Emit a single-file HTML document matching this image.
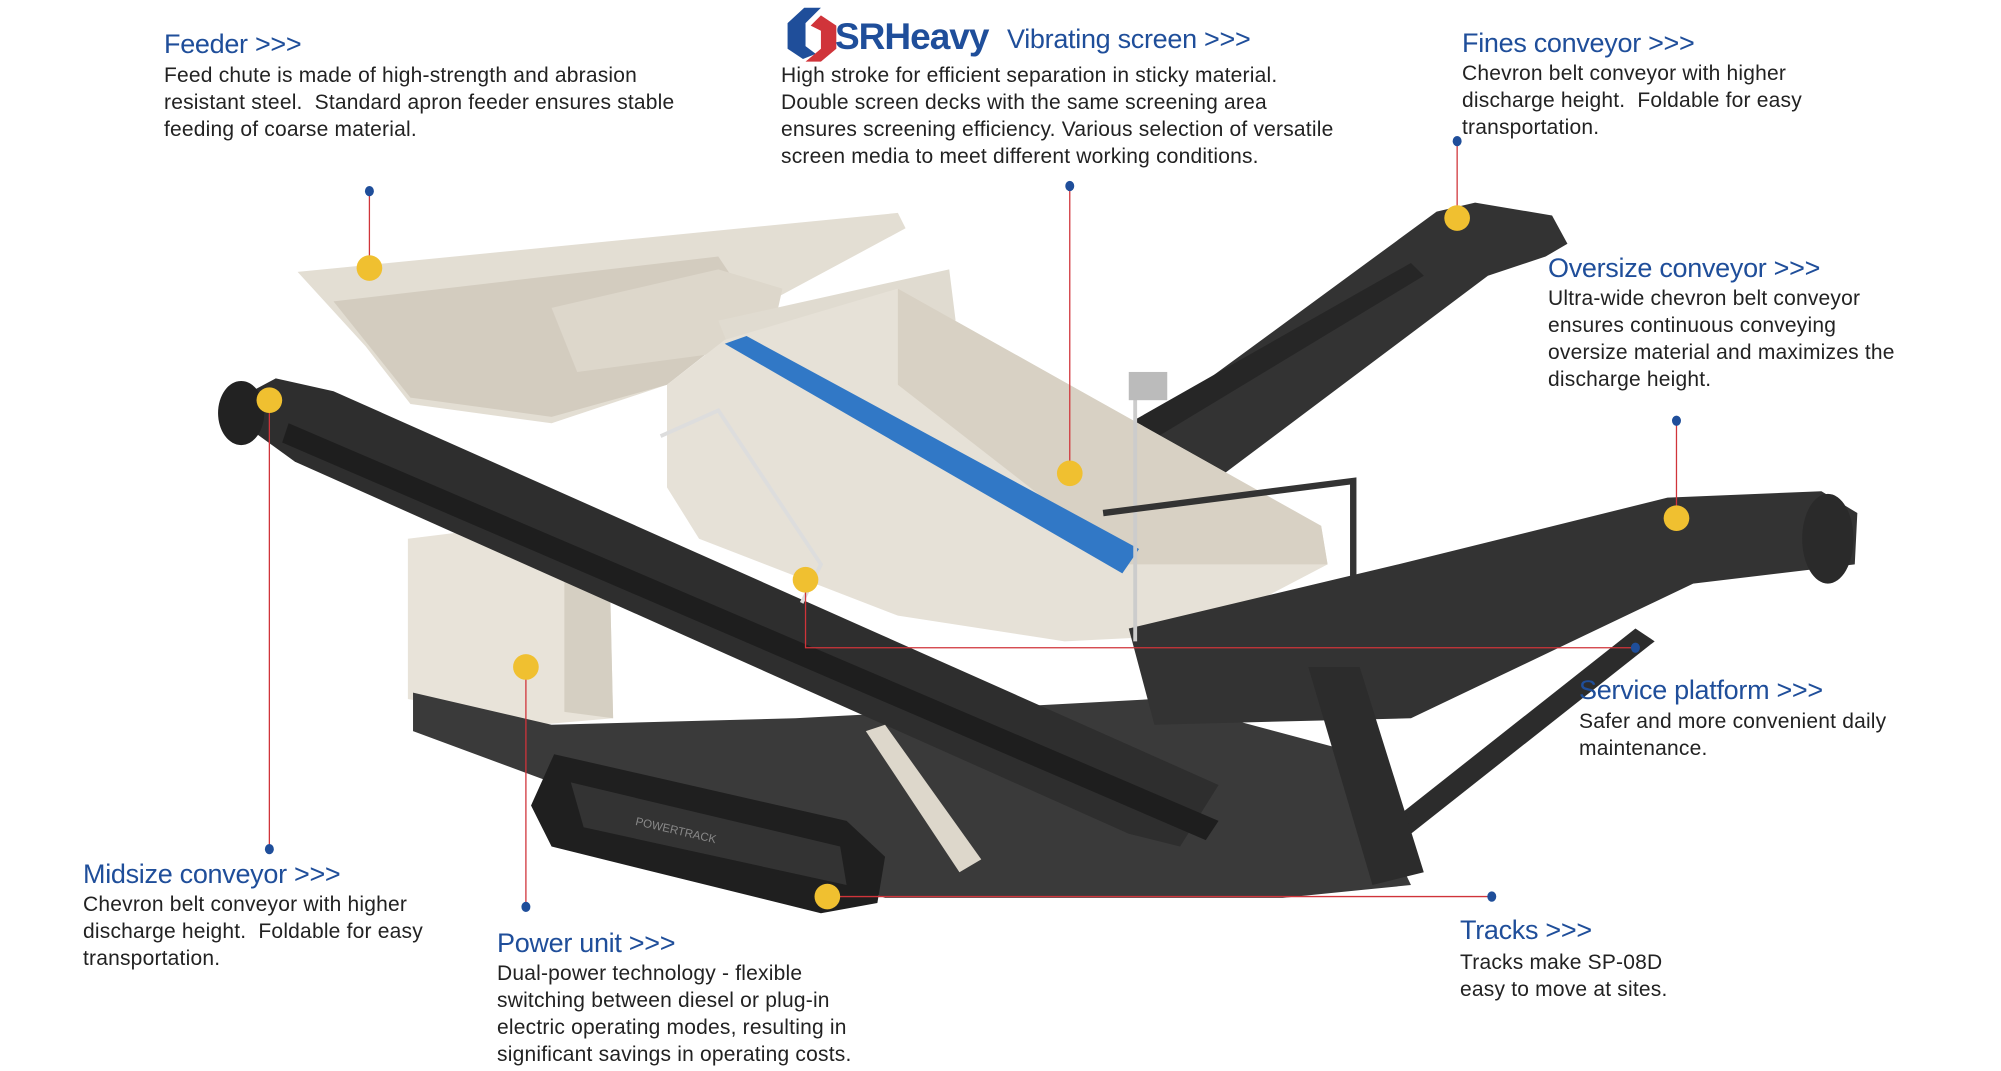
<!DOCTYPE html>
<html><head><meta charset="utf-8"><style>
html,body{margin:0;padding:0;background:#fff;}
#w{position:relative;width:2001px;height:1071px;overflow:hidden;background:#fff;font-family:"Liberation Sans",sans-serif;}
svg{position:absolute;left:0;top:0;}
.t{position:absolute;color:#1f4e9a;font-size:27px;line-height:30px;white-space:nowrap;letter-spacing:-0.3px;}
.b{position:absolute;color:#222;font-size:21px;line-height:27px;white-space:nowrap;letter-spacing:0.2px;}
</style></head><body><div id="w">
<svg width="2001" height="1071" viewBox="0 0 1560 835" preserveAspectRatio="none">
<polygon points="820,385 1120,165 1150,158 1210,168 1222,190 1205,200 1160,215 900,410 860,425" fill="#333"/>
<polygon points="880,330 1100,205 1110,215 895,345" fill="#262626"/>
<polygon points="232,212 700,166 706,178 600,235 545,260 520,300 430,330 320,315 285,270" fill="#e3ded3"/>
<polygon points="260,235 560,200 590,245 520,300 430,325 320,310" fill="#d3ccbf"/>
<polygon points="430,240 560,210 610,225 600,270 450,290" fill="#ddd7cb"/>
<polygon points="560,250 740,210 745,250 580,300" fill="#e0dbd0"/>
<polygon points="520,300 565,265 700,225 1030,410 1035,440 930,495 830,500 700,480 545,420 520,380" fill="#e6e1d7"/>
<polygon points="700,225 1030,410 1035,440 880,440 700,300" fill="#d8d1c4"/>
<polygon points="565,268 582,262 888,428 875,447" fill="#3178c6"/>
<polygon points="318,420 440,405 475,430 478,560 420,565 318,545" fill="#e8e3d9"/>
<polygon points="440,405 475,430 478,560 440,555" fill="#d5cfc2"/>
<polygon points="322,540 430,565 620,560 900,545 1050,585 1100,690 1000,700 690,700 430,610 322,570" fill="#3a3a3a"/>
<polygon points="432,588 660,640 690,668 684,704 640,712 430,660 414,628" fill="#1f1f1f"/>
<polygon points="445,610 655,660 660,690 455,645" fill="#333"/>
<text x="495" y="643" fill="#888" font-size="9" font-family="Liberation Sans" transform="rotate(13 495 643)">POWERTRACK</text>
<polygon points="172,318 215,295 260,305 950,612 920,660 880,650 230,360" fill="#2e2e2e"/>
<ellipse cx="188" cy="322" rx="18" ry="25" fill="#222"/>
<polygon points="225,330 950,640 940,655 220,345" fill="#1e1e1e"/>
<polygon points="880,490 1090,440 1300,388 1420,383 1448,400 1446,440 1320,455 1100,560 900,565" fill="#333"/>
<ellipse cx="1425" cy="420" rx="20" ry="35" fill="#2a2a2a"/>
<polygon points="1275,490 1290,500 1100,650 1085,640" fill="#2c2c2c"/>
<polygon points="1020,520 1060,520 1110,680 1070,690" fill="#2c2c2c"/>
<polyline points="515,340 560,320 640,440 625,470" fill="none" stroke="#ddd" stroke-width="3"/>
<line x1="885" y1="300" x2="885" y2="500" stroke="#ccc" stroke-width="3"/>
<rect x="880" y="290" width="30" height="22" fill="#bbb"/>
<polyline points="860,400 1055,375 1055,450" fill="none" stroke="#333" stroke-width="5"/>
<polygon points="675,570 690,565 765,670 748,680" fill="#ddd7cb"/>
<g stroke="#d0343a" stroke-width="1" fill="none">
<line x1="288" y1="149" x2="288" y2="209"/>
<line x1="834" y1="145" x2="834" y2="369"/>
<line x1="1136" y1="110" x2="1136" y2="170"/>
<line x1="1307" y1="328" x2="1307" y2="404"/>
<line x1="210" y1="312" x2="210" y2="662"/>
<line x1="410" y1="520" x2="410" y2="707"/>
<polyline points="628,452 628,505 1275,505"/>
<line x1="645" y1="699" x2="1163" y2="699"/>
</g>
<g fill="#1f4e9a">
<ellipse cx="288" cy="149" rx="3.5" ry="4"/><ellipse cx="834" cy="145" rx="3.5" ry="4"/>
<ellipse cx="1136" cy="110" rx="3.5" ry="4"/><ellipse cx="1307" cy="328" rx="3.5" ry="4"/>
<ellipse cx="210" cy="662" rx="3.5" ry="4"/><ellipse cx="410" cy="707" rx="3.5" ry="4"/>
<ellipse cx="1275" cy="505" rx="3.5" ry="4"/><ellipse cx="1163" cy="699" rx="3.5" ry="4"/>
</g>
<g fill="#f0c030">
<circle cx="288" cy="209" r="10"/><circle cx="834" cy="369" r="10"/>
<circle cx="1136" cy="170" r="10"/><circle cx="1307" cy="404" r="10"/>
<circle cx="210" cy="312" r="10"/><circle cx="410" cy="520" r="10"/>
<circle cx="628" cy="452" r="10"/><circle cx="645" cy="699" r="10"/>
</g>
<polygon points="627,6 640,6 628,18 628,36 636,42 626,46 614,38 614,18" fill="#1f4e9a"/>
<polygon points="640,12 652,20 652,38 640,48 628,48 640,38 640,24 632,20" fill="#d0343a"/>
</svg>
<div class="t" style="left:835px;top:17px;font-size:37px;line-height:40px;font-weight:bold;letter-spacing:-1px;">SRHeavy</div>
<div class="t" style="left:164px;top:29px">Feeder &gt;&gt;&gt;</div>
<div class="b" style="left:164px;top:62px">Feed chute is made of high-strength and abrasion<br>resistant steel.&nbsp; Standard apron feeder ensures stable<br>feeding of coarse material.</div>
<div class="t" style="left:1007px;top:24px">Vibrating screen &gt;&gt;&gt;</div>
<div class="b" style="left:781px;top:62px">High stroke for efficient separation in sticky material.<br>Double screen decks with the same screening area<br>ensures screening efficiency. Various selection of versatile<br>screen media to meet different working conditions.</div>
<div class="t" style="left:1462px;top:28px">Fines conveyor &gt;&gt;&gt;</div>
<div class="b" style="left:1462px;top:60px">Chevron belt conveyor with higher<br>discharge height.&nbsp; Foldable for easy<br>transportation.</div>
<div class="t" style="left:1548px;top:253px">Oversize conveyor &gt;&gt;&gt;</div>
<div class="b" style="left:1548px;top:285px">Ultra-wide chevron belt conveyor<br>ensures continuous conveying<br>oversize material and maximizes the<br>discharge height.</div>
<div class="t" style="left:83px;top:859px">Midsize conveyor &gt;&gt;&gt;</div>
<div class="b" style="left:83px;top:891px">Chevron belt conveyor with higher<br>discharge height.&nbsp; Foldable for easy<br>transportation.</div>
<div class="t" style="left:497px;top:928px">Power unit &gt;&gt;&gt;</div>
<div class="b" style="left:497px;top:960px">Dual-power technology - flexible<br>switching between diesel or plug-in<br>electric operating modes, resulting in<br>significant savings in operating costs.</div>
<div class="t" style="left:1579px;top:675px">Service platform &gt;&gt;&gt;</div>
<div class="b" style="left:1579px;top:708px">Safer and more convenient daily<br>maintenance.</div>
<div class="t" style="left:1460px;top:915px">Tracks &gt;&gt;&gt;</div>
<div class="b" style="left:1460px;top:949px">Tracks make SP-08D<br>easy to move at sites.</div>
</div></body></html>
